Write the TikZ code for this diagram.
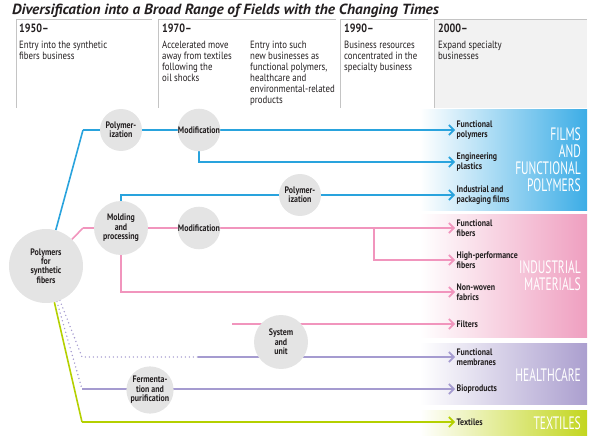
\documentclass[tikz,border=0pt]{standalone}
\usepackage{fontspec}
\setmainfont{PT Sans}[FakeStretch=0.84]
\newfontfamily\catfont{PT Sans}[FakeStretch=0.64]
\newfontfamily\titlefont{PT Sans}[FakeStretch=1.04]
\usetikzlibrary{arrows.meta}
\pgfdeclarelayer{bg}\pgfdeclarelayer{lines}
\pgfsetlayers{bg,lines,main}
\definecolor{cblue}{HTML}{29A3DD}
\definecolor{cpink}{HTML}{F195BD}
\definecolor{cpurple}{HTML}{A59BD0}
\definecolor{cgreen}{HTML}{B4D000}
\definecolor{bblue}{HTML}{3CADE6}
\definecolor{bpink}{HTML}{EF9FC0}
\definecolor{bpurple}{HTML}{AB9FCF}
\definecolor{bgreen}{HTML}{C3D61F}
\definecolor{cgray}{HTML}{E4E4E4}
\definecolor{hline}{HTML}{C4C4C4}
\definecolor{ink}{HTML}{231F20}
\begin{document}
\begin{tikzpicture}[x=1pt,y=-1pt,
  proc/.style={circle,fill=cgray,inner sep=0pt,align=center,text=ink,
    font=\bfseries\fontsize{9.4}{9.4}\selectfont},
  lab/.style={anchor=west,align=left,inner sep=1.5pt,text=ink,
    font=\bfseries\fontsize{9.4}{10}\selectfont},
  conn/.style={line width=1.6pt},
  arr/.style={-{Straight Barb[length=5pt,width=10pt]}},
  dots/.style={line width=1.6pt,line cap=round,dash pattern=on 0pt off 4pt},
  yr/.style={anchor=base west,inner sep=0pt,text=ink,font=\bfseries\fontsize{12}{13}\selectfont},
  body/.style={anchor=north west,inner sep=0pt,align=left,text=ink,font=\fontsize{10.5}{11}\selectfont},
  cat/.style={anchor=east,align=right,inner sep=0pt,text=white,font=\catfont\fontsize{18}{17}\selectfont},
  hdr/.style={draw=hline,line width=1pt}]
\useasboundingbox (0,0) rectangle (600,441);

% title
\node[anchor=base west,inner sep=0pt,text=ink,font=\titlefont\bfseries\itshape\fontsize{14.7}{15}\selectfont] (title) at (12,15) {Diversification into a Broad Range of Fields with the Changing Times};

\begin{pgfonlayer}{bg}
  \fill[white!95!black] (434,19) rectangle (587,108);
  \draw[hdr] (16,108) -- (16,20) -- (152,20);
  \draw[hdr] (158,108) -- (158,20) -- (336,20);
  \draw[hdr] (340,108) -- (340,20) -- (428,20);
  \draw[hdr] (434,108) -- (434,20) -- (587,20);
  % bands
  \shade[left color=white,right color=bblue] (420,110) rectangle (587,210);
  \shade[left color=white,right color=bpink] (420,214) rectangle (587,337);
  \shade[left color=white,right color=bpurple] (420,343) rectangle (587,404);
  \shade[left color=white,right color=bgreen] (420,410) rectangle (587,435);
\end{pgfonlayer}

% header texts
\node[yr] (y1) at (19,33) {1950–};
\node[yr] (y2) at (162,33) {1970–};
\node[yr] (y3) at (344,33) {1990–};
\node[yr] (y4) at (438,33) {2000–};
\node[body] (h1) at (19,40.5) {Entry into the synthetic\\fibers business};
\node[body] (h2) at (162,40.5) {Accelerated move\\away from textiles\\following the\\oil shocks};
\node[body] (h3) at (250,40.5) {Entry into such\\new businesses as\\functional polymers,\\healthcare and\\environmental-related\\products};
\node[body] (h4) at (344,40.5) {Business resources\\concentrated in the\\specialty business};
\node[body] (h5) at (438,40.5) {Expand specialty\\businesses};

% category labels
\node[cat] (k1) at (581,160) {FILMS\\AND\\FUNCTIONAL\\POLYMERS};
\node[cat] (k2) at (581,276) {INDUSTRIAL\\MATERIALS};
\node[cat] (k3) at (581,375) {HEALTHCARE};
\node[cat] (k4) at (581,423) {TEXTILES};

% process circles
\node[proc,minimum size=74pt] (big) at (46,266) {Polymers\\for\\synthetic\\fibers};
\node[proc,minimum size=42pt] (polyA) at (121,130) {Polymer-\\ization};
\node[proc,minimum size=42pt] (modA) at (199,130) {Modification};
\node[proc,minimum size=54pt] (mold) at (121,228) {Molding\\and\\processing};
\node[proc,minimum size=42pt] (modB) at (199,228) {Modification};
\node[proc,minimum size=42pt] (polyB) at (300,195) {Polymer-\\ization};
\node[proc,minimum size=54pt] (sys) at (281,342) {System\\and\\unit};
\node[proc,minimum size=42pt] (ferm) at (150,390) {Fermenta-\\tion and\\purification};

% product labels
\node[lab] (t1) at (455,130) {Functional\\polymers};
\node[lab] (t2) at (455,162) {Engineering\\plastics};
\node[lab] (t3) at (455,195) {Industrial and\\packaging films};
\node[lab] (t4) at (455,228) {Functional\\fibers};
\node[lab] (t5) at (455,260) {High-performance\\fibers};
\node[lab] (t6) at (455,292) {Non-woven\\fabrics};
\node[lab] (t7) at (455,324) {Filters};
\node[lab] (t8) at (455,357) {Functional\\membranes};
\node[lab] (t9) at (455,389) {Bioproducts};
\node[lab] (t10) at (455,422) {Textiles};

% bend points
\coordinate (b1) at (83,130);
\coordinate (p1) at (83,228);
\coordinate (br) at (374,228);
\coordinate (fs) at (232,324);
\coordinate (d1) at (82,357);
\coordinate (d1e) at (198,357);
\coordinate (d2) at (82,389);
\coordinate (g1) at (82,422);

\begin{pgfonlayer}{lines}
  % blue
  \draw[cblue,conn] (big) -- (b1);
  \draw[cblue,conn,arr] (b1) -- (t1.west);
  \draw[cblue,conn,arr] (modA) -- (modA |- t2.west) -- (t2.west);
  \draw[cblue,conn,arr] (mold) -- (mold |- t3.west) -- (t3.west);
  % pink
  \draw[cpink,conn] (big) -- (p1);
  \draw[cpink,conn,arr] (p1) -- (t4.west);
  \draw[cpink,conn,arr] (br) -- (br |- t5.west) -- (t5.west);
  \draw[cpink,conn,arr] (mold) -- (mold |- t6.west) -- (t6.west);
  \draw[cpink,conn,arr] (fs) -- (t7.west);
  % purple
  \draw[cpurple,dots] (big.-68) -- (d1) -- (d1e);
  \draw[cpurple,conn,arr] (d1e) -- (t8.west);
  \draw[cpurple,dots] (big.-73) -- (d2);
  \draw[cpurple,conn,arr] (d2) -- (t9.west);
  % green
  \draw[cgreen,conn] (big) -- (g1);
  \draw[cgreen,conn,arr] (g1) -- (t10.west);
\end{pgfonlayer}
\end{tikzpicture}
\end{document}
